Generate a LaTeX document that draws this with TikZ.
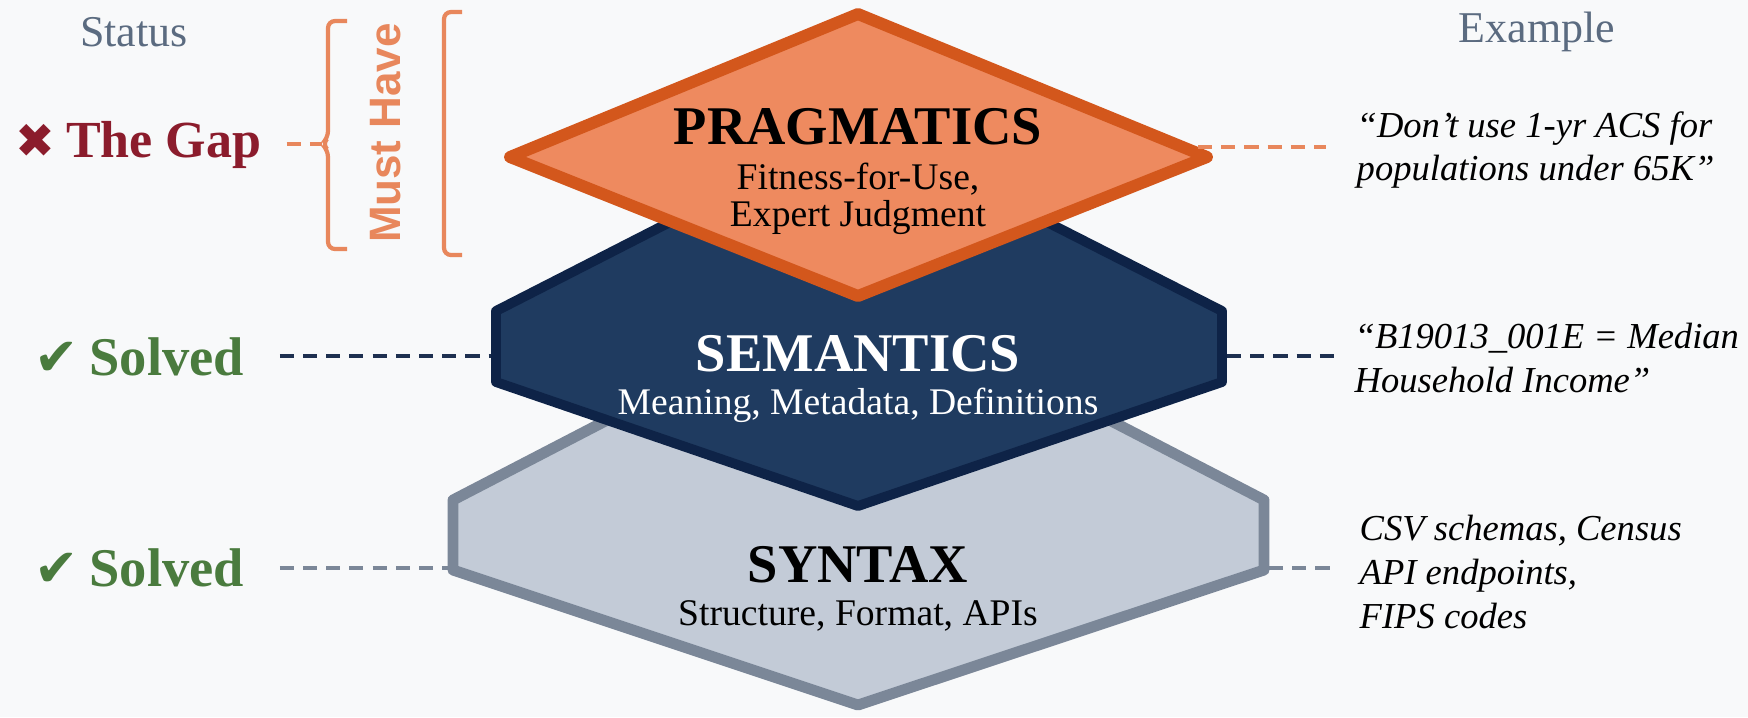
\documentclass[tikz,border=0pt]{standalone}
\usepackage{fontspec}
\setmainfont{Liberation Serif}
\newfontfamily\symbfont{DejaVu Sans}
\newfontfamily\mustfont{Liberation Sans}
\usetikzlibrary{positioning}

\definecolor{bgcol}{HTML}{F8F9FA}
\definecolor{prfill}{HTML}{EE8A5F}
\definecolor{prline}{HTML}{D3571C}
\definecolor{sefill}{HTML}{1F3B60}
\definecolor{seline}{HTML}{0E2347}
\definecolor{syfill}{HTML}{C3CBD7}
\definecolor{syline}{HTML}{7B8798}
\definecolor{headgray}{HTML}{5B6B80}
\definecolor{gapred}{HTML}{8B1C2C}
\definecolor{okgreen}{HTML}{4A7B3E}
\definecolor{accent}{HTML}{E8875C}
\definecolor{navydash}{HTML}{1E3050}

\begin{document}
\begin{tikzpicture}[x=0.01cm,y=-0.01cm,
    layer/.style={line join=round},
    title/.style={font=\fontsize{15.5}{18}\selectfont\bfseries},
    sub/.style={align=center,font=\fontsize{10.7}{10.5}\selectfont},
    ex/.style={anchor=west,align=left,inner sep=0pt,font=\fontsize{10.4}{12.5}\selectfont\itshape},
    head/.style={text=headgray,font=\fontsize{12.5}{15}\selectfont},
    status/.style={anchor=west,inner sep=0pt,font=\fontsize{15.5}{18}\selectfont\bfseries},
    link/.style={line width=1.1pt,dash pattern=on 4pt off 2.6pt},
    brk/.style={draw=accent,line width=1.2pt,rounded corners=2pt}]
  \fill[bgcol] (0,0) rectangle (1748,717);
  \useasboundingbox (0,0) rectangle (1748,717);

  % layers, bottom first
  \filldraw[layer,line width=3.1pt,fill=syfill,draw=syline]
    (858,290) -- (1264,500) -- (1264,570) -- (858,705) -- (453,570) -- (453,500) -- cycle;
  \filldraw[layer,line width=2.8pt,fill=sefill,draw=seline]
    (858,126) -- (1222,311) -- (1222,382) -- (858,506) -- (496,382) -- (496,311) -- cycle;
  \filldraw[layer,line width=3.4pt,fill=prfill,draw=prline]
    (858,14) -- (1207,157) -- (858,296) -- (510,157) -- cycle;

  \node[title] (prT) at (858,127) {PRAGMATICS};
  \node[sub] (prS) at (858,199) {Fitness-for-Use,\\Expert Judgment};
  \node[title,text=white] (seT) at (858,354) {SEMANTICS};
  \node[sub,text=white] (seS) at (858,405) {Meaning, Metadata, Definitions};
  \node[title] (syT) at (858,565) {SYNTAX};
  \node[sub] (syS) at (858,616) {Structure, Format, APIs};

  % anchors for the links
  \coordinate (bracePt) at (322,144);
  \coordinate (prR) at (1198,147);
  \coordinate (seL) at (491,356);
  \coordinate (seR) at (1227,356);
  \coordinate (syL) at (448,568);
  \coordinate (syR) at (1269,568);

  % headers
  \node[head] (stH) at (134,32) {Status};
  \node[head] (exH) at (1537,32) {Example};

  % status column
  \node[status,text=gapred,font=\fontsize{14.8}{18}\selectfont\bfseries] (gap) at (15,145)
    {{\symbfont\fontsize{13.5}{13}\selectfont ✖}\hspace{3pt}The Gap};
  \node[status,text=okgreen] (seSt) at (34,357)
    {{\symbfont\fontsize{15}{15}\selectfont ✔}\hspace{3pt}Solved};
  \node[status,text=okgreen] (sySt) at (34,568)
    {{\symbfont\fontsize{15}{15}\selectfont ✔}\hspace{3pt}Solved};

  \draw[brk] (347,21) -- (328,21) -- (328,138) -- (bracePt) -- (328,150) -- (328,249) -- (347,249);
  \draw[brk] (462,12) -- (444,12) -- (444,255) -- (462,255);
  \node[rotate=90,text=accent,font=\mustfont\bfseries\fontsize{12.5}{15}\selectfont] (must) at (386,133) {Must Have};

  % examples
  \node[ex] (prEx) at (1356,150) {“Don’t use 1-yr ACS for\\populations under 65K”};
  \node[ex] (seEx) at (1354,358) {“B19013\_001E = Median\\Household Income”};
  \node[ex] (syEx) at (1359,572) {CSV schemas, Census\\API endpoints,\\FIPS codes};

  % dashed links
  \draw[link,accent,shorten <=7pt] (gap.east |- bracePt) -- (bracePt);
  \draw[link,navydash,shorten <=10pt] (seSt.east |- seL) -- (seL);
  \draw[link,syline,shorten <=10pt] (sySt.east |- syL) -- (syL);
  \draw[link,accent,shorten >=8.5pt] (prR) -- (prEx.west |- prR);
  \draw[link,navydash,shorten >=5pt] (seR) -- (seEx.west |- seR);
  \draw[link,syline,shorten >=8pt] (syR) -- (syEx.west |- syR);
\end{tikzpicture}
\end{document}
